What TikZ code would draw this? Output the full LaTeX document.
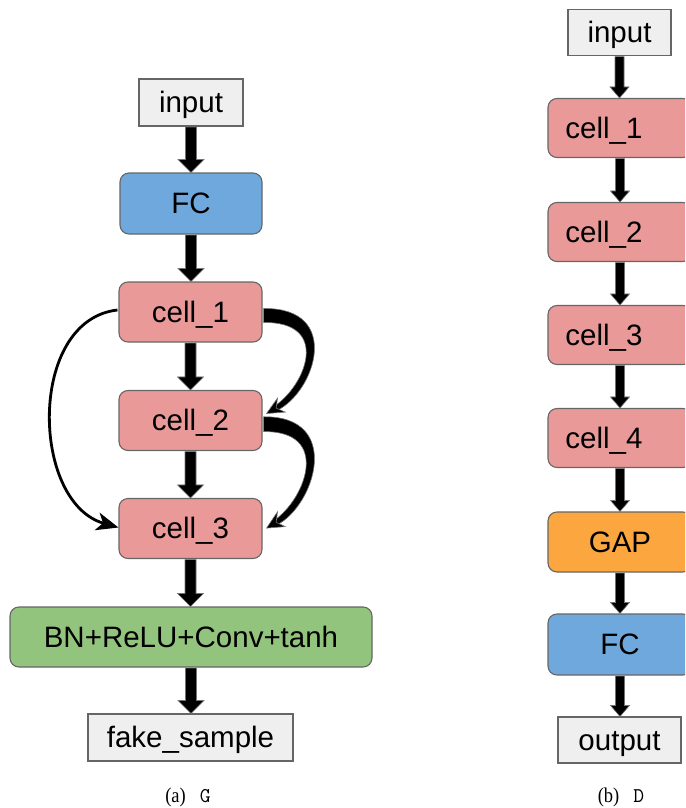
\documentclass[tikz,border=0pt]{standalone}
\usepackage{fontspec}
\setmainfont{Liberation Sans}
\newfontfamily\capserif[FakeStretch=0.88]{Liberation Serif}
\usetikzlibrary{calc,arrows.meta}

\definecolor{boxgray}{HTML}{EFEFEF}
\definecolor{edgegray}{HTML}{666666}
\definecolor{fcblue}{HTML}{6FA8DC}
\definecolor{cellpink}{HTML}{EA9999}
\definecolor{headgreen}{HTML}{93C47D}
\definecolor{gaporange}{HTML}{FBA63F}

\tikzset{
  base/.style={draw=edgegray, line width=1.1pt, inner sep=0pt, rectangle,
    font=\fontsize{29.5}{35}\selectfont, text height=26.7pt, text depth=6.2pt},
  plainbox/.style={base, fill=boxgray},
  roundbox/.style={base, rounded corners=9pt},
  fcbox/.style={roundbox, fill=fcblue},
  cellbox/.style={roundbox, fill=cellpink},
  greenbox/.style={roundbox, fill=headgreen},
  gapbox/.style={roundbox, fill=gaporange},
  bigarrow/.style={fill=black, draw=black!55, line width=0.6pt},
  caption/.style={font=\capserif\fontsize{21}{25}\selectfont, anchor=base},
  % thick tapered bend leaving a box on its right side and re-entering below
  bendarrow/.pic={
    \path[bigarrow] (1,-3.5) .. controls (80,-4.5) and (53,80) .. (13.9,98.8)
      -- (11.5,94.4) .. controls (44,73) and (68,9.5) .. (1,10.5) -- cycle;
    \path[bigarrow] (4,101.5) -- (22.7,100.1) -- (13.6,96.1) -- (14.9,86.2) -- cycle;
  }
}

% straight block arrow from the bottom of #1 to the top of #2
% #3 half shaft width, #4 half head width, #5 head length
\newcommand\blockarrow[5]{%
  \path[bigarrow] let \p1=(#1.south), \p2=(#2.north) in
    (\x1-#3,\y1-0.6pt) -- (\x1+#3,\y1-0.6pt) -- (\x1+#3,\y2+#5) -- (\x1+#4,\y2+#5)
    -- (\x1,\y2) -- (\x1-#4,\y2+#5) -- (\x1-#3,\y2+#5) -- cycle;}

\begin{document}
\begin{tikzpicture}[x=1pt, y=-1pt]
\useasboundingbox (0,0) rectangle (685,808);
\begin{scope}
\clip (0,0) rectangle (685,808);

% ---------------- generator G ----------------
\node[plainbox, minimum width=104pt, minimum height=47pt] (inG) at (191,102.5) {input};
\node[fcbox, minimum width=142pt, minimum height=61pt] (fcG) at (191,203.5) {FC};
\node[cellbox, minimum width=143pt, minimum height=60pt] (c1G) at (190.5,312) {cell\_1};
\node[cellbox, minimum width=143pt, minimum height=60pt] (c2G) at (190.5,420.5) {cell\_2};
\node[cellbox, minimum width=143pt, minimum height=60pt] (c3G) at (190.5,528.5) {cell\_3};
\node[greenbox, minimum width=362pt, minimum height=60pt] (bnG) at (191,637) {BN+ReLU+Conv+tanh};
\node[plainbox, minimum width=205pt, minimum height=47pt] (fakeG) at (190.5,737.5) {fake\_sample};

\blockarrow{inG}{fcG}{5.5pt}{13pt}{13pt}
\blockarrow{fcG}{c1G}{5.5pt}{13pt}{13pt}
\blockarrow{c1G}{c2G}{5.5pt}{13pt}{13pt}
\blockarrow{c2G}{c3G}{5.5pt}{13pt}{13pt}
\blockarrow{c3G}{bnG}{5.5pt}{13pt}{13pt}
\blockarrow{bnG}{fakeG}{5.5pt}{13pt}{13pt}

% skip connections between cells
\pic at (c1G.east) {bendarrow};
\pic[yscale=1.06] at (c2G.east) {bendarrow};
\draw[line width=2.8pt, -{Stealth[length=22pt,width=18pt,inset=6pt]}]
  ($(c1G.west)+(-1,-2)$) .. controls +(-90,10) and +(-88,-25) .. ($(c3G.west)+(0,-1)$);

\node[caption] (capG) at (188,802) {(a)\hspace{14pt}\texttt{G}};

% ---------------- discriminator D ----------------
\node[plainbox, minimum width=103pt, minimum height=46pt] (inD) at (619.5,32.5) {input};
\node[cellbox, minimum width=144pt, minimum height=59pt] (c1D) at (620,128) {cell\_1\hspace*{32pt}};
\node[cellbox, minimum width=144pt, minimum height=59pt] (c2D) at (620,232) {cell\_2\hspace*{32pt}};
\node[cellbox, minimum width=144pt, minimum height=59pt] (c3D) at (620,335) {cell\_3\hspace*{32pt}};
\node[cellbox, minimum width=144pt, minimum height=59pt] (c4D) at (620,438) {cell\_4\hspace*{32pt}};
\node[gapbox, minimum width=144pt, minimum height=60pt] (gapD) at (620,542) {GAP};
\node[fcbox, minimum width=144pt, minimum height=61pt] (fcD) at (620,644.5) {FC};
\node[plainbox, minimum width=123pt, minimum height=46pt] (outD) at (619.5,740) {output};

\blockarrow{inD}{c1D}{4.5pt}{9.5pt}{11pt}
\blockarrow{c1D}{c2D}{4.5pt}{9.5pt}{11pt}
\blockarrow{c2D}{c3D}{4.5pt}{9.5pt}{11pt}
\blockarrow{c3D}{c4D}{4.5pt}{9.5pt}{11pt}
\blockarrow{c4D}{gapD}{4.5pt}{9.5pt}{11pt}
\blockarrow{gapD}{fcD}{4.5pt}{9.5pt}{11pt}
\blockarrow{fcD}{outD}{4.5pt}{9.5pt}{11pt}

\node[caption] (capD) at (621,802) {(b)\hspace{14pt}\texttt{D}};
\end{scope}
\end{tikzpicture}
\end{document}
